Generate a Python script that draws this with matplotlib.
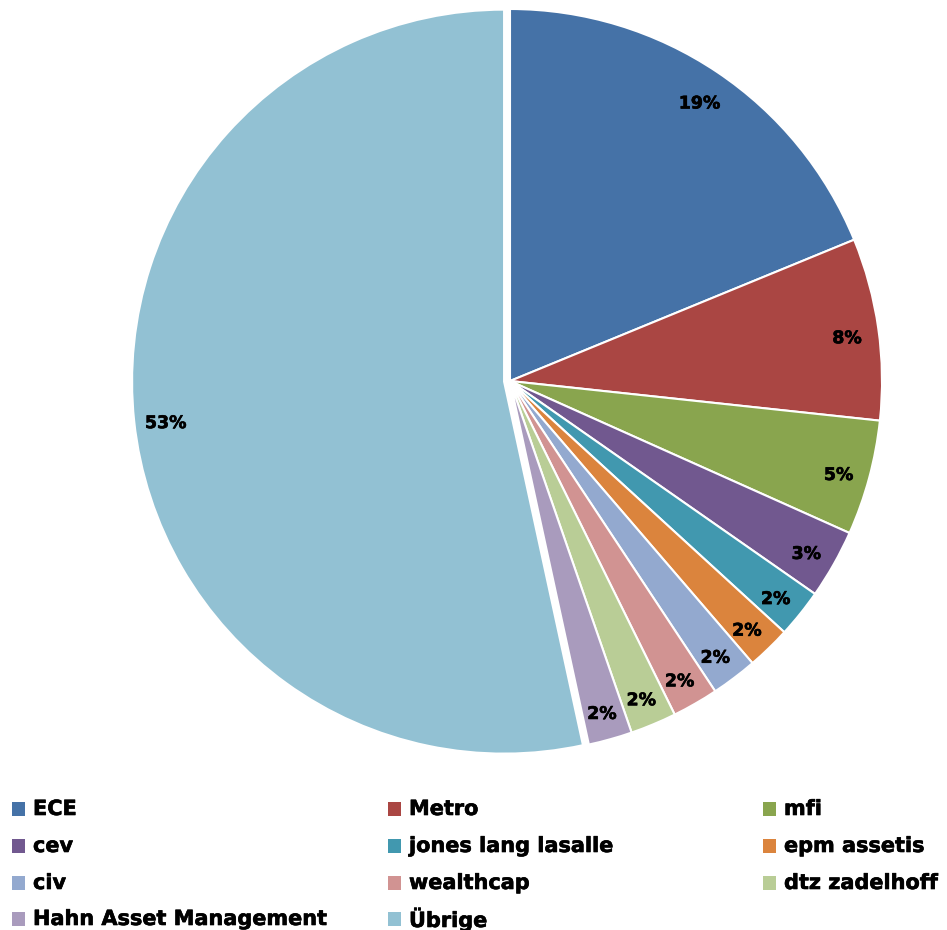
import matplotlib
matplotlib.use("Agg")
import matplotlib.pyplot as plt
import matplotlib.patheffects as pe
from matplotlib.patches import Rectangle
import numpy as np

# shares (percent)
labels = ['ECE', 'Metro', 'mfi', 'cev', 'jones lang lasalle', 'epm assetis',
          'civ', 'wealthcap', 'dtz zadelhoff', 'Hahn Asset Management', 'Übrige']
shares = [18.8, 7.9, 5.0, 3.0, 2.1, 1.9, 2.0, 2.0, 2.0, 1.9, 53.4]
pct_text = ['19%', '8%', '5%', '3%', '2%', '2%', '2%', '2%', '2%', '2%', '53%']
colors = ['#4572A7', '#AA4643', '#89A54E', '#71588F', '#4198AF', '#DB843D',
          '#93A9CF', '#D19392', '#B9CD96', '#A99BBD', '#92C1D3']
explode = [0, 0, 0, 0, 0, 0, 0, 0, 0, 0, 0.016]

W, H = 947, 930
fig = plt.figure(figsize=(W / 100, H / 100), dpi=100)

# pie centre (510, 381) px from top-left, radius 372 px
cx, cy, r = 510, 381, 372
ax = fig.add_axes([(cx - r) / W, (H - cy - r) / H, 2 * r / W, 2 * r / H])

wedges, texts = ax.pie(shares, colors=colors, explode=explode, startangle=90,
                       counterclock=False, radius=1,
                       wedgeprops=dict(edgecolor='white', linewidth=1.5))

heavy = [pe.withStroke(linewidth=0.45, foreground='black')]

# percentage labels
for w, t in zip(wedges, pct_text):
    mid = np.deg2rad((w.theta1 + w.theta2) / 2)
    d = 0.915
    ax.text(d * np.cos(mid) + w.center[0], d * np.sin(mid) + w.center[1] - 0.014, t,
            ha='center', va='center', fontsize=12.5, fontweight='bold',
            family='DejaVu Sans', color='black', path_effects=heavy)

ax.set_xlim(-1, 1)
ax.set_ylim(-1, 1)
ax.set_aspect('equal')
ax.axis('off')

# legend laid out row by row, three columns
col_x = [12, 388, 763]
row_y = [809, 846, 883, 919]
for i, (lab, c) in enumerate(zip(labels, colors)):
    x = col_x[i % 3]
    y = row_y[i // 3]
    fig.patches.append(Rectangle((x / W, (H - y - 7) / H), 13 / W, 14 / H,
                                 transform=fig.transFigure, facecolor=c,
                                 edgecolor='none'))
    fig.text((x + 21) / W, (H - y) / H, lab, ha='left', va='center',
             fontsize=15, fontweight='bold', family='DejaVu Sans', color='black',
             path_effects=heavy)

fig.savefig('out.png', dpi=100)
